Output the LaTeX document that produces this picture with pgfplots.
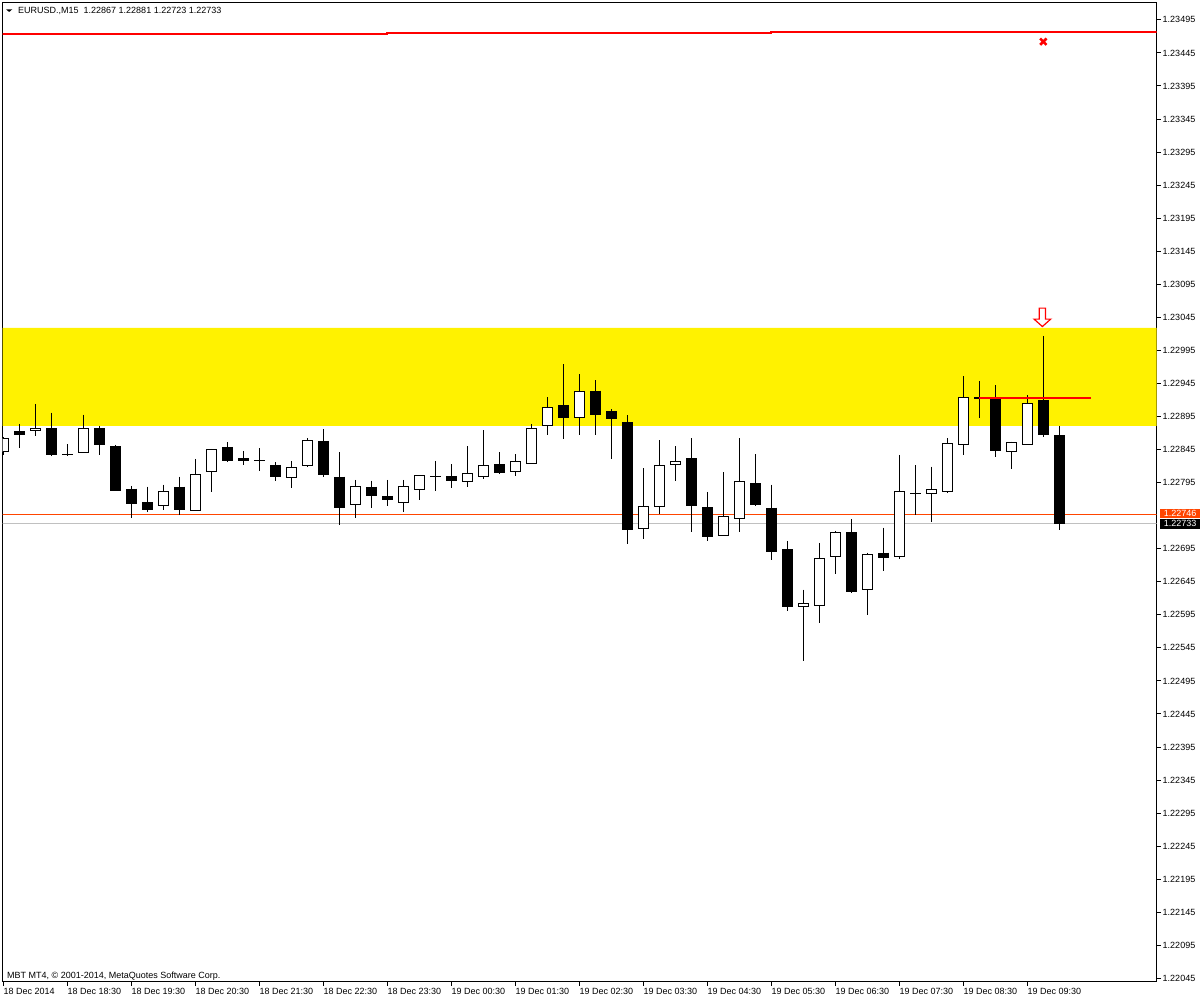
\documentclass[border=0pt]{standalone}
\usepackage{fontspec}
\setmainfont{Liberation Sans}
\usepackage{pgfplots}
\pgfplotsset{compat=1.18}
\usepackage{pgfplotstable}
\definecolor{mtorange}{RGB}{255,69,0}
\definecolor{mtgrey}{RGB}{192,192,192}

% hollow down arrow (MT4 sell arrow)
\pgfdeclareplotmark{mtarrow}{%
  \pgfpathmoveto{\pgfpoint{-3.2pt}{9.2pt}}%
  \pgfpathlineto{\pgfpoint{3.2pt}{9.2pt}}%
  \pgfpathlineto{\pgfpoint{3.2pt}{-1.8pt}}%
  \pgfpathlineto{\pgfpoint{8.3pt}{-1.8pt}}%
  \pgfpathlineto{\pgfpoint{0pt}{-9.2pt}}%
  \pgfpathlineto{\pgfpoint{-8.3pt}{-1.8pt}}%
  \pgfpathlineto{\pgfpoint{-3.2pt}{-1.8pt}}%
  \pgfpathclose
  \pgfusepathqfillstroke}

% candle parts: no line, no marks, only the error bar segments
\pgfplotsset{
  seg/.style={draw=none, mark=none, forget plot},
}

% EURUSD M15, bar 0 = 18 Dec 17:30
\pgfplotstableread{
i  O        H        L        C
0  1.22842  1.22864  1.22837  1.22862
2  1.22874  1.22914  1.22866  1.22877
5  1.22841  1.22898  1.22840  1.22877
10 1.22760  1.22792  1.22753  1.22782
12 1.22753  1.22831  1.22752  1.22808
13 1.22812  1.22846  1.22781  1.22845
18 1.22803  1.22828  1.22787  1.22818
19 1.22821  1.22862  1.22818  1.22858
22 1.22762  1.22799  1.22741  1.22789
25 1.22765  1.22799  1.22751  1.22789
26 1.22785  1.22806  1.22768  1.22805
29 1.22797  1.22850  1.22789  1.22809
30 1.22804  1.22874  1.22800  1.22821
32 1.22812  1.22838  1.22805  1.22827
33 1.22824  1.22883  1.22823  1.22877
34 1.22882  1.22924  1.22867  1.22909
36 1.22894  1.22959  1.22867  1.22933
40 1.22726  1.22817  1.22709  1.22759
41 1.22759  1.22859  1.22748  1.22821
42 1.22823  1.22850  1.22798  1.22827
45 1.22715  1.22811  1.22714  1.22743
46 1.22740  1.22862  1.22720  1.22797
50 1.22607  1.22633  1.22525  1.22612
51 1.22609  1.22704  1.22583  1.22680
52 1.22683  1.22722  1.22656  1.22719
54 1.22633  1.22689  1.22595  1.22686
56 1.22683  1.22837  1.22679  1.22781
58 1.22778  1.22819  1.22735  1.22785
59 1.22781  1.22862  1.22779  1.22854
60 1.22852  1.22956  1.22836  1.22924
63 1.22842  1.22857  1.22815  1.22855
64 1.22853  1.22927  1.22852  1.22915
}\bull

\pgfplotstableread{
i  O        H        L        C
1  1.22873  1.22883  1.22848  1.22867
3  1.22877  1.22901  1.22835  1.22836
4  1.22838  1.22853  1.22835  1.22836
6  1.22877  1.22880  1.22836  1.22852
7  1.22850  1.22852  1.22782  1.22783
8  1.22786  1.22790  1.22741  1.22762
9  1.22765  1.22789  1.22750  1.22753
11 1.22789  1.22804  1.22746  1.22753
14 1.22849  1.22856  1.22826  1.22827
15 1.22832  1.22843  1.22821  1.22827
16 1.22829  1.22847  1.22812  1.22827
17 1.22822  1.22826  1.22797  1.22803
20 1.22858  1.22876  1.22803  1.22807
21 1.22804  1.22841  1.22731  1.22757
23 1.22789  1.22798  1.22757  1.22774
24 1.22775  1.22799  1.22759  1.22768
27 1.22805  1.22828  1.22783  1.22803
28 1.22805  1.22823  1.22787  1.22798
31 1.22823  1.22841  1.22808  1.22810
35 1.22912  1.22974  1.22861  1.22893
37 1.22934  1.22950  1.22867  1.22897
38 1.22903  1.22906  1.22831  1.22891
39 1.22886  1.22897  1.22702  1.22723
43 1.22832  1.22862  1.22720  1.22759
44 1.22758  1.22781  1.22706  1.22712
47 1.22794  1.22838  1.22760  1.22761
48 1.22757  1.22792  1.22678  1.22690
49 1.22694  1.22707  1.22601  1.22607
53 1.22720  1.22740  1.22628  1.22629
55 1.22689  1.22727  1.22662  1.22681
57 1.22779  1.22821  1.22746  1.22777
61 1.22924  1.22948  1.22893  1.22921
62 1.22924  1.22942  1.22833  1.22843
65 1.22920  1.23017  1.22864  1.22867
66 1.22867  1.22881  1.22723  1.22733
}\bear

\begin{document}
\begin{tikzpicture}[font=\fontsize{9}{11}\selectfont]
\useasboundingbox (0,0) rectangle (1200pt,1000pt);
\fill[white] (0,0) rectangle (1200pt,1000pt);
\begin{axis}[
  at={(2.5pt,18.3pt)}, anchor=south west,
  width=1154pt, height=979pt, scale only axis,
  xmin=-0.05, xmax=72.075,
  ymin=1.22040, ymax=1.23521,
  clip mode=individual,
  axis line style={line width=1pt, black},
  tick align=outside, major tick length=4pt,
  tick style={line width=1pt, black},
  xtick pos=bottom, ytick pos=right, yticklabel pos=right,
  xtick={0,4,...,64},
  xticklabels={18 Dec 2014, 18 Dec 18:30, 18 Dec 19:30, 18 Dec 20:30,
    18 Dec 21:30, 18 Dec 22:30, 18 Dec 23:30, 19 Dec 00:30, 19 Dec 01:30,
    19 Dec 02:30, 19 Dec 03:30, 19 Dec 04:30, 19 Dec 05:30, 19 Dec 06:30,
    19 Dec 07:30, 19 Dec 08:30, 19 Dec 09:30},
  ytick={1.22045,1.22095,1.22145,1.22195,1.22245,1.22295,1.22345,1.22395,
    1.22445,1.22495,1.22545,1.22595,1.22645,1.22695,1.22795,1.22845,1.22895,
    1.22945,1.22995,1.23045,1.23095,1.23145,1.23195,1.23245,1.23295,1.23345,
    1.23395,1.23445,1.23495},
  yticklabels={1.22045,1.22095,1.22145,1.22195,1.22245,1.22295,1.22345,1.22395,
    1.22445,1.22495,1.22545,1.22595,1.22645,1.22695,1.22795,1.22845,1.22895,
    1.22945,1.22995,1.23045,1.23095,1.23145,1.23195,1.23245,1.23295,1.23345,
    1.23395,1.23445,1.23495},
  tick label style={font=\fontsize{9}{11}\selectfont},
  xticklabel style={anchor=north west, inner sep=0pt, yshift=-2pt},
  yticklabel style={anchor=west, inner sep=0pt, xshift=2pt},
]
% resistance zone
\addplot[draw=none, fill=yellow] coordinates
  {(-1,1.22881) (73,1.22881) (73,1.23029) (-1,1.23029) (-1,1.22881)};
% ask / bid lines
\addplot[mtorange, line width=1pt] coordinates {(-1,1.22746) (73,1.22746)};
\addplot[mtgrey, line width=1pt] coordinates {(-1,1.22733) (73,1.22733)};
% trend line near the top
\addplot[red, line width=2pt, const plot] coordinates
  {(-1,1.23474) (24,1.23475) (48,1.23477) (73,1.23477)};

% wicks
\addplot[seg, error bars/.cd, y dir=minus, y explicit,
  error mark=none, error bar style={draw=black, line width=1pt}]
  table[x=i, y=H, y error expr=\thisrow{H}-\thisrow{L}] {\bull};
\addplot[seg, error bars/.cd, y dir=minus, y explicit,
  error mark=none, error bar style={draw=black, line width=1pt}]
  table[x=i, y=H, y error expr=\thisrow{H}-\thisrow{L}] {\bear};
% bear bodies
\addplot[seg, error bars/.cd, y dir=minus, y explicit,
  error mark=none, error bar style={draw=black, line width=11pt}]
  table[x=i, y=O, y error expr=\thisrow{O}-\thisrow{C}] {\bear};
% bull bodies: black outline, white inside, top and bottom edges
\addplot[seg, error bars/.cd, y dir=minus, y explicit,
  error mark=none, error bar style={draw=black, line width=11pt}]
  table[x=i, y=C, y error expr=\thisrow{C}-\thisrow{O}] {\bull};
\addplot[seg, error bars/.cd, y dir=minus, y explicit,
  error mark=none, error bar style={draw=white, line width=9pt}]
  table[x=i, y=C, y error expr=\thisrow{C}-\thisrow{O}] {\bull};
\addplot[seg, error bars/.cd, x dir=both, x fixed=0.34375,
  error mark=none, error bar style={draw=black, line width=1pt}]
  table[x=i, y=C] {\bull};
\addplot[seg, error bars/.cd, x dir=both, x fixed=0.34375,
  error mark=none, error bar style={draw=black, line width=1pt}]
  table[x=i, y=O] {\bull};

% level line, arrow and cross
\addplot[red, line width=2pt] coordinates {(61,1.22923) (68,1.22923)};
\addplot[only marks, mark=mtarrow, mark options={draw=red, fill=white, line width=1.2pt}]
  coordinates {(64.94,1.23045)};
\addplot[only marks, red, mark=x, mark size=4.5pt, mark options={line width=2.6pt}]
  coordinates {(65,1.23462)};

\node[fill=mtorange, text=white, anchor=west, inner sep=0pt, minimum width=41pt,
  minimum height=9.5pt, xshift=2.8pt, yshift=1.5pt] at (axis cs:72.075,1.22746) {1.22746};
\node[fill=black, text=white, anchor=west, inner sep=0pt, minimum width=41pt,
  minimum height=10pt, xshift=2.8pt] at (axis cs:72.075,1.22733) {1.22733};
\end{axis}
\fill (6pt,990.7pt) -- (12.3pt,990.7pt) -- (9.15pt,988pt) -- cycle;
\node[anchor=base west, inner sep=0pt] at (18pt,986.5pt)
  {EURUSD.,M15\ \ 1.22867 1.22881 1.22723 1.22733};
\node[anchor=base west, inner sep=0pt] at (7pt,21.7pt)
  {MBT MT4, © 2001-2014, MetaQuotes Software Corp.};
\end{tikzpicture}
\end{document}
